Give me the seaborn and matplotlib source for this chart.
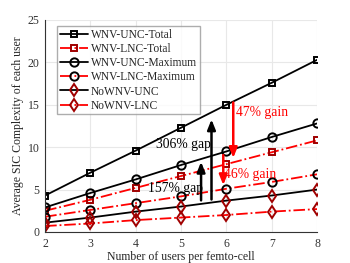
import matplotlib
matplotlib.use("Agg")
import matplotlib.pyplot as plt
import seaborn as sns
import pandas as pd

users = [2, 3, 4, 5, 6, 7, 8]
wnv_unc_total = [4.3, 7.0, 9.6, 12.3, 15.0, 17.6, 20.3]
wnv_lnc_total = [2.5, 3.8, 5.2, 6.6, 8.0, 9.4, 10.8]
wnv_unc_max = [2.9, 4.6, 6.2, 7.9, 9.5, 11.2, 12.8]
wnv_lnc_max = [1.8, 2.6, 3.4, 4.2, 5.1, 5.9, 6.8]
nownv_unc = [1.1, 1.7, 2.4, 3.0, 3.7, 4.3, 5.0]
nownv_lnc = [0.7, 1.0, 1.4, 1.7, 2.0, 2.4, 2.7]

series_names = ["WNV-UNC-Total", "WNV-LNC-Total", "WNV-UNC-Maximum",
                "WNV-LNC-Maximum", "NoWNV-UNC", "NoWNV-LNC"]
series_vals = [wnv_unc_total, wnv_lnc_total, wnv_unc_max, wnv_lnc_max, nownv_unc, nownv_lnc]

sns.set_theme(style="whitegrid")
plt.rcParams['font.family'] = ['Liberation Serif', 'DejaVu Serif']

fig = plt.figure(figsize=(3.5, 2.63), dpi=100)
ax = fig.add_axes([0.129, 0.118, 0.777, 0.806])

styles = [
    dict(color="black", ls="-", marker="s", mec="black", mfc="none", ms=5),
    dict(color="red", ls="-.", marker="s", mec="#a00000", mfc="none", ms=5),
    dict(color="black", ls="-", marker="o", mec="black", mfc="none", ms=6),
    dict(color="red", ls="-.", marker="o", mec="black", mfc="none", ms=6),
    dict(color="black", ls="-", marker="d", mec="#a00000", mfc="none", ms=6),
    dict(color="red", ls="-.", marker="d", mec="#a00000", mfc="none", ms=6),
]

for name, vals, st in zip(series_names, series_vals, styles):
    df = pd.DataFrame({"x": users, "y": vals})
    sns.lineplot(data=df, x="x", y="y", ax=ax, color=st["color"], linestyle=st["ls"],
                 marker=st["marker"], markeredgecolor=st["mec"], markerfacecolor=st["mfc"],
                 markersize=st["ms"], markeredgewidth=1.4,
                 linewidth=1.3, label=name)

ax.set_xlim(2, 8)
ax.set_ylim(0, 25)
ax.set_xticks(users)
ax.set_yticks([0, 5, 10, 15, 20, 25])
ax.grid(True, color="#e8e8e8", linewidth=0.8)
for s in ax.spines.values():
    s.set_color("#333333")
    s.set_linewidth(0.8)
ax.spines['top'].set_visible(False)
ax.spines['right'].set_visible(False)
ax.tick_params(axis="both", labelsize=8.5, length=2, colors="#333333", direction="in")
ax.tick_params(axis="x", pad=4)
ax.tick_params(axis="y", pad=4)
ax.set_xlabel("Number of users per femto-cell", fontsize=8.5, labelpad=1)
ax.set_ylabel("Average SIC Complexity of each user", fontsize=8.5, labelpad=3)

leg = ax.legend(loc="upper left", fontsize=8.3, frameon=True, fancybox=False,
                borderpad=0.25, labelspacing=0.18, handlelength=2.4, handletextpad=0.3,
                borderaxespad=0, bbox_to_anchor=(0.044, 0.97))
leg.get_frame().set_edgecolor("#999999")
leg.get_frame().set_linewidth(1.0)

akw_b = dict(arrowstyle="-|>,head_length=0.5,head_width=0.2", color="black", lw=1.8)
akw_r = dict(arrowstyle="-|>,head_length=0.5,head_width=0.2", color="red", lw=1.8)
ax.annotate("", xy=(5.44, 8.6), xytext=(5.44, 3.4), arrowprops=akw_b)
ax.annotate("", xy=(5.67, 13.6), xytext=(5.67, 3.5), arrowprops=akw_b)
ax.annotate("", xy=(6.15, 8.4), xytext=(6.15, 15.6), arrowprops=akw_r)
ax.annotate("", xy=(5.93, 5.2), xytext=(5.93, 9.4), arrowprops=akw_r)

ax.text(4.45, 10.3, "306% gap", fontsize=9.8, color="black", va="center")
ax.text(4.27, 5.1, "157% gap", fontsize=9.8, color="black", va="center")
ax.text(6.2, 14.1, "47% gain", fontsize=9.8, color="red", va="center")
ax.text(5.95, 6.8, "46% gain", fontsize=9.8, color="red", va="center")

fig.savefig("out.png", dpi=100)
